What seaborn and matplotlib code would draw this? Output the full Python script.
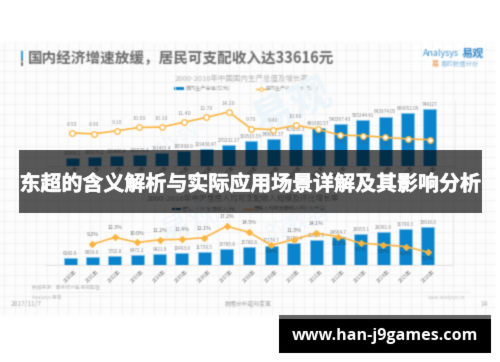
import numpy as np
import pandas as pd
import matplotlib
matplotlib.use("Agg")
import matplotlib.pyplot as plt
import matplotlib.patheffects as pe
from matplotlib.patches import Rectangle
import seaborn as sns

# 数据
years = [f"{y}年" for y in range(2000, 2017)]
gdp = [99066.1, 109276.2, 120480.4, 136576.3, 161415.4, 185998.9, 219438.47, 270232.27, 319515.55,
       349081.37, 413030.3, 489300.57, 540367.43, 595244.41, 643974.05, 689052.09, 744127]
gdp_labels = ["99066.1", "109276.2", "120480.4", "136576.3", "161415.4", "185998.9", "219438.47", "270232.27",
              "319515.55", "349081.37", "413030.3", "489300.57", "540367.43", "595244.41", "643974.05",
              "689052.09", "744127"]
gdp_growth = [8.5, 8.3, 9.1, 10.0, 10.1, 11.4, 12.7, 14.2, 9.7, 9.4, 10.6, 9.5, 7.9, 7.8, 7.3, 6.9, 6.7]
income = [6280.0, 6859.6, 7702.8, 8472.2, 9421.6, 10493.0, 11759.5, 13785.8, 15780.8, 17174.7, 19109.4,
          21809.8, 24564.7, 26955.1, 29381.0, 31790.3, 33616.0]
income_growth = [None, 9.2, 12.3, 10.0, 11.2, 11.4, 12.1, 17.2, 14.5, 8.8, 11.3, 14.1, 12.6, 9.7, 9.0, 8.2, 5.7]

W, H = 500, 362
BLUE = "#0a84cc"
ORANGE = "#fdb43e"

sns.set_theme(style="white")
plt.rcParams["font.family"] = ["Noto Sans CJK SC", "DejaVu Sans"]
plt.rcParams["axes.unicode_minus"] = False


# 原图比较模糊，用 agg_filter 做一点高斯模糊
def make_blur(sigma):
    r = int(sigma * 3) + 1
    k = np.exp(-0.5 * (np.arange(-r, r + 1) / sigma) ** 2)
    k = k / k.sum()

    def blur(im, dpi):
        a = np.pad(im, [(r, r), (r, r), (0, 0)], "constant").astype(float)
        a[..., :3] *= a[..., 3:]
        a = np.apply_along_axis(lambda v: np.convolve(v, k, mode="same"), 0, a)
        a = np.apply_along_axis(lambda v: np.convolve(v, k, mode="same"), 1, a)
        a[..., :3] /= np.maximum(a[..., 3:], 1e-4)
        return np.clip(a, 0, 1), -r, -r
    return blur


def px_axes(left, top, right, bottom, **kw):
    return fig.add_axes([left / W, 1 - bottom / H, (right - left) / W, (bottom - top) / H], **kw)


fig = plt.figure(figsize=(W / 100, H / 100), dpi=100, facecolor="white")

# 页面背景
page = px_axes(0, 0, W, H, zorder=0)
page.set_xlim(0, W)
page.set_ylim(H, 0)
page.axis("off")
page.add_patch(Rectangle((0, 42), 495, 273, fc="#fdfdfd", ec="none"))
page.vlines(np.arange(4, 495, 10.7), 42, 315, color="#f1f1f1", lw=0.6)
page.hlines(np.arange(50, 315, 10.7), 0, 495, color="#f1f1f1", lw=0.6)
page.add_patch(Rectangle((412, 43), 76, 29, fc="white", ec="none"))
page.add_patch(Rectangle((21, 50), 2, 9, fc="#2a9ee0", ec="none"))
page.add_patch(Rectangle((21, 59), 2, 7, fc="#777777", ec="none"))

page.text(28, 58, "国内经济增速放缓，居民可支配收入达33616元", fontsize=10.5, fontweight="bold",
          color="#6a6a6a", va="center")
page.text(242, 79, "2000-2016年中国国内生产总值及增长率", fontsize=5.4, color="#b4b4b4", ha="center", va="center")
page.text(186, 88.5, "国内生产总值(亿元)", fontsize=3.7, color="#999999", va="center")
page.text(266, 88.5, "国内生产总值增长率(%)", fontsize=3.6, color="#999999", va="center")
page.add_patch(Rectangle((174, 87), 10, 2.5, fc=BLUE, ec="none"))
page.plot([256, 266], [88.5, 88.5], color=ORANGE, lw=1)
page.plot([261], [88.5], "o", ms=2.5, mfc="white", mec=ORANGE, mew=0.7)

page.text(243, 199, "2000-2016年中国居民人均可支配收入规模及环比增长率", fontsize=5.6, color="#999999", ha="center", va="center")
page.add_patch(Rectangle((172, 208), 9, 2, fc="#0a5c90", ec="none"))
page.text(182, 209, "居民人均可支配收入(元)", fontsize=3.7, color="#888888", va="center")
page.plot([243, 253], [209, 209], color=ORANGE, lw=1)
page.text(254, 209, "居民人均可支配收入环比增长率", fontsize=3.7, color="#888888", va="center")

page.text(32, 288, "数据来源：国家统计局 易观整理", fontsize=3.4, color="#bdbdbd", va="center")
page.text(32, 297, "Analysys 易观", fontsize=3.4, color="#bdbdbd", va="center")
page.text(11, 304, "2017/11/7", fontsize=4.8, color="#a8a8a8", va="center")
page.text(225, 304, "数据分析驱动变革", fontsize=4.2, color="#a8a8a8", va="center")
page.text(428, 297, "www.analysys.cn", fontsize=3.4, color="#bdbdbd", va="center")
page.text(480, 304, "14", fontsize=4.6, color="#a8a8a8", va="center")
page.hlines(292, 30, 470, color="#ececec", lw=0.6)

# logo
page.text(423, 53.5, "Analysys", fontsize=6.4, color="#3b8fcf", va="center", style="italic")
page.text(462, 53.5, "易观", fontsize=8, fontweight="bold", color="#2f86c8", va="center")
page.text(432, 63.5, "易", fontsize=5, color="#f2a15f", va="center", fontweight="bold")
page.text(441, 63.5, "易的数据分析", fontsize=4.6, color="#8fbde0", va="center", style="italic")

# 水印
page.text(292, 108, "易观", fontsize=30, fontweight="bold", color="#edf6fb", rotation=25, ha="center", va="center")
page.text(170, 142, "Analysys", fontsize=15, color="#f0f7fb", rotation=30, ha="center", va="center")
page.text(190, 222, "易观", fontsize=22, color="#eff6fb", rotation=25, ha="center", va="center")
page.text(296, 222, "的数据", fontsize=16, color="#eff6fb", rotation=20, ha="center", va="center")
page.set_agg_filter(make_blur(0.7))


def draw_chart(left, right, top, bottom, bars, bar_labels, line, ymax, lim2, marker, mfc, ms, year_pad):
    df = pd.DataFrame({"year": years, "bar": bars, "line": line})
    ax = px_axes(left, top, right, bottom, zorder=2)
    sns.barplot(data=df, x="year", y="bar", color=BLUE, saturation=1, width=0.58,
                edgecolor="#7cc4ee", linewidth=0.5, ax=ax)
    ax.set_ylim(0, ymax)
    ax.set_xlabel("")
    ax.set_ylabel("")
    ax.set_yticks([])
    ax.patch.set_visible(False)
    ax.bar_label(ax.containers[0], labels=bar_labels, fontsize=3.4, color="#8c8c8c", padding=1.5)
    ax.tick_params(axis="x", length=0, pad=year_pad)
    plt.setp(ax.get_xticklabels(), rotation=45, fontsize=3.6, color="#808080", ha="center", va="center")
    for s in ["top", "left"]:
        ax.spines[s].set_visible(False)
    ax.spines["bottom"].set_color("#dddddd")
    ax.spines["bottom"].set_linewidth(0.5)
    ax.spines["right"].set_color("#e8e8e8")
    ax.spines["right"].set_linewidth(0.5)
    ax.set_agg_filter(make_blur(0.6))

    ax2 = ax.twinx()
    ax2.set_zorder(3)
    sns.lineplot(data=df, x="year", y="line", color=ORANGE, lw=1.2, marker=marker, ms=ms, mfc=mfc,
                 mec=ORANGE, mew=0.9, ax=ax2, sort=False)
    ax2.set_ylim(*lim2)
    ax2.set_ylabel("")
    ax2.set_yticks([])
    ax2.patch.set_visible(False)
    for s in ax2.spines.values():
        s.set_visible(False)
    ax2.set_agg_filter(make_blur(0.6))
    return ax, ax2


# 上图
ax_a, ax_a2 = draw_chart(47, 455, 100, 165.5, gdp, gdp_labels, gdp_growth, 862000, (-0.28, 17.42),
                         "o", "white", 4.0, 5)
for i, v in enumerate(gdp_growth):
    inside = i >= 11
    ax_a2.annotate(f"{v:.2f}", (i, v), xytext=(0, -3 if inside else 4.5), textcoords="offset points", ha="center",
                   va="top" if inside else "bottom", fontsize=3.9, color="#2c6c99" if inside else "#999999")

# 下图
ax_b, ax_b2 = draw_chart(45, 453, 215, 265, income, [f"{v:.1f}" for v in income], income_growth,
                         44092, (0.04, 22.16), "D", ORANGE, 3.0, 8)
for i, v in enumerate(income_growth):
    if v is None:
        continue
    inside = i in (9, 12, 13, 14, 15, 16)
    ax_b2.annotate(f"{v:.1f}%", (i, v), xytext=(0, -3 if inside else 5), textcoords="offset points",
                   ha="center", va="top" if inside else "bottom", fontsize=3.7,
                   color="#1d4f73" if inside else "#707070")

# 横幅和网址
over = px_axes(0, 0, W, H, zorder=10)
over.set_xlim(0, W)
over.set_ylim(H, 0)
over.axis("off")
over.add_patch(Rectangle((19, 150), 463, 63, fc="black", alpha=0.65, ec="none"))
over.add_patch(Rectangle((279, 315), 212, 4, fc="#666666", ec="none"))
over.add_patch(Rectangle((279, 319), 212, 34, fc="black", ec="none"))
over.text(250.5, 184, "东超的含义解析与实际应用场景详解及其影响分析", fontsize=15.1, fontweight="bold",
          color="white", ha="center", va="center",
          path_effects=[pe.withStroke(linewidth=0.5, foreground="white")])
over.text(385, 336, "www.han-j9games.com", fontsize=11.6, fontweight="bold", family="Open Sans",
          color="white", ha="center", va="center")
over.set_agg_filter(make_blur(0.45))

fig.savefig("out.png", dpi=100, facecolor="white")
